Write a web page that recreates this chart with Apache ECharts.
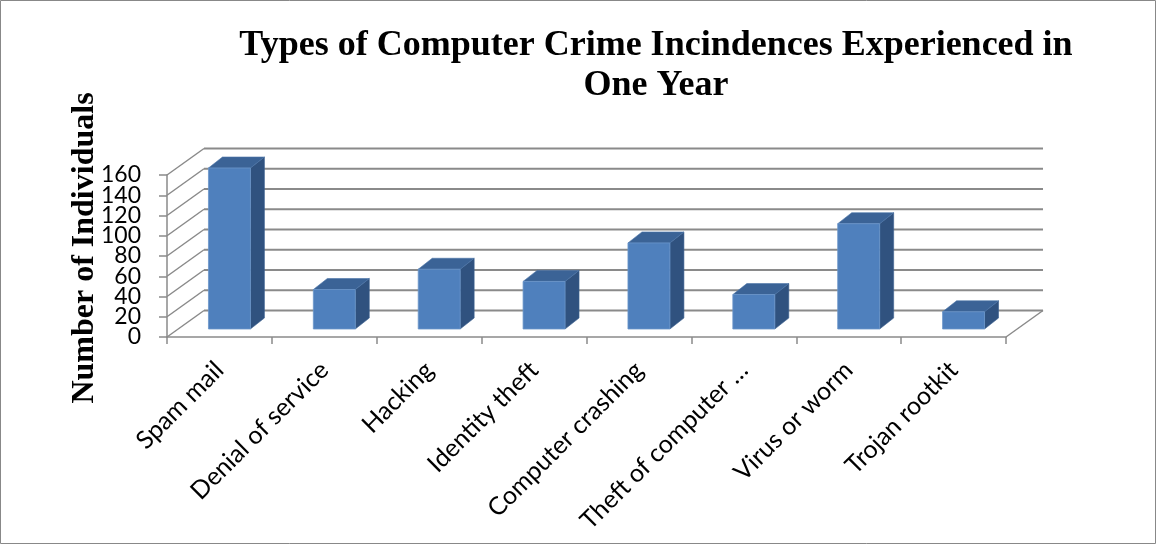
<!DOCTYPE html>
<html>
<head>
<meta charset="utf-8">
<script src="https://cdn.jsdelivr.net/npm/echarts@6/dist/echarts.min.js"></script>
<style>
html,body{margin:0;padding:0;background:#fff;}
#chart{width:1156px;height:544px;}
</style>
</head>
<body>
<div id="chart"></div>
<script>
const categories = ["Spam mail","Denial of service","Hacking","Identity theft","Computer crashing","Theft of computer \u2026","Virus or worm","Trojan rootkit"];
const counts = [159, 39, 59, 47, 85, 34, 104, 17];
const yTicks = [0, 20, 40, 60, 80, 100, 120, 140, 160];

const WALL_DX = 37, WALL_DY = -26.5;
const BAR_OX = 10, BAR_OY = -8;
const BAR_DX = 14, BAR_DY = -11;
const lineColor = '#8a8a8a';

const chart = echarts.init(document.getElementById('chart'));
chart.setOption({
  backgroundColor: '#ffffff',
  animation: false,
  title: {
    text: 'Types of Computer Crime Incindences Experienced in\nOne Year',
    left: 651, top: 21, textAlign: 'center',
    textStyle: {fontFamily: 'Liberation Serif', fontWeight: 'bold', fontSize: 36, lineHeight: 40, color: '#000'}
  },
  grid: {left: 167, top: 175, right: 150, bottom: 207, containLabel: false},
  xAxis: {
    type: 'category', data: categories,
    axisLine: {lineStyle: {color: lineColor, width: 1.5}},
    axisTick: {show: true, length: 7, lineStyle: {color: lineColor, width: 1.5}},
    axisLabel: {rotate: 45, margin: 29, interval: 0, hideOverlap: false, fontFamily: 'Lato', fontSize: 25, color: '#000'},
    splitLine: {show: false}
  },
  yAxis: {
    type: 'value', min: 0, max: 160, interval: 20,
    axisLine: {show: true, lineStyle: {color: lineColor, width: 1.5}},
    axisTick: {show: true, length: 8, lineStyle: {color: lineColor, width: 1.5}},
    axisLabel: {show: false},
    splitLine: {show: false}
  },
  graphic: [
    {type: 'rect', shape: {x: 0.5, y: 0.5, width: 1155, height: 543}, style: {fill: 'none', stroke: '#888', lineWidth: 1}, z: 100},
    {type: 'text', x: 85, y: 248, rotation: Math.PI / 2,
     style: {text: 'Number of Individuals', fontFamily: 'Liberation Serif', fontWeight: 'bold', fontSize: 32, fill: '#000', align: 'center', verticalAlign: 'middle'}}
  ],
  series: [
    {
      type: 'custom', name: 'walls', silent: true, z: 1,
      data: yTicks.map(v => [0, v]),
      renderItem: function (params, api) {
        const cs = params.coordSys;
        const v = api.value(1);
        const y = api.coord([0, v])[1];
        const x0 = cs.x, x1 = cs.x + cs.width;
        const children = [
          {type: 'line', shape: {x1: x0, y1: y, x2: x0 + WALL_DX, y2: y + WALL_DY}, style: {stroke: lineColor, lineWidth: 1.5}},
          {type: 'line', shape: {x1: x0 + WALL_DX, y1: y + WALL_DY, x2: x1 + WALL_DX, y2: y + WALL_DY}, style: {stroke: lineColor, lineWidth: 2}},
          {type: 'text', x: x0 - 26, y: y, style: {text: String(v), align: 'right', verticalAlign: 'middle', fontFamily: 'Lato', fontSize: 23, fill: '#000'}}
        ];
        if (v === 0) {
          children.push({type: 'line', shape: {x1: x1, y1: y, x2: x1 + WALL_DX, y2: y + WALL_DY}, style: {stroke: lineColor, lineWidth: 1.5}});
        }
        return {type: 'group', children: children};
      }
    },
    {
      type: 'custom', name: 'Individuals', z: 2,
      data: counts.map((v, i) => [i, v]),
      renderItem: function (params, api) {
        const base = api.coord([api.value(0), 0]);
        const top = api.coord([api.value(0), api.value(1)]);
        const w = api.size([1, 0])[0] * 0.4;
        const xl = base[0] + BAR_OX - w / 2, xr = xl + w;
        const yb = base[1] + BAR_OY, yt = top[1] + BAR_OY;
        return {type: 'group', children: [
          {type: 'polygon', shape: {points: [[xr, yt], [xr + BAR_DX, yt + BAR_DY], [xr + BAR_DX, yb + BAR_DY], [xr, yb]]}, style: {fill: '#30527f', stroke: '#3d6290', lineWidth: 0.6}},
          {type: 'polygon', shape: {points: [[xl, yt], [xl + BAR_DX, yt + BAR_DY], [xr + BAR_DX, yt + BAR_DY], [xr, yt]]}, style: {fill: '#3b6396', stroke: '#4a74a8', lineWidth: 0.6}},
          {type: 'rect', shape: {x: xl, y: yt, width: w, height: yb - yt}, style: {fill: '#4f80bd', stroke: '#6b95c9', lineWidth: 0.8}}
        ]};
      }
    }
  ]
});
</script>
</body>
</html>
